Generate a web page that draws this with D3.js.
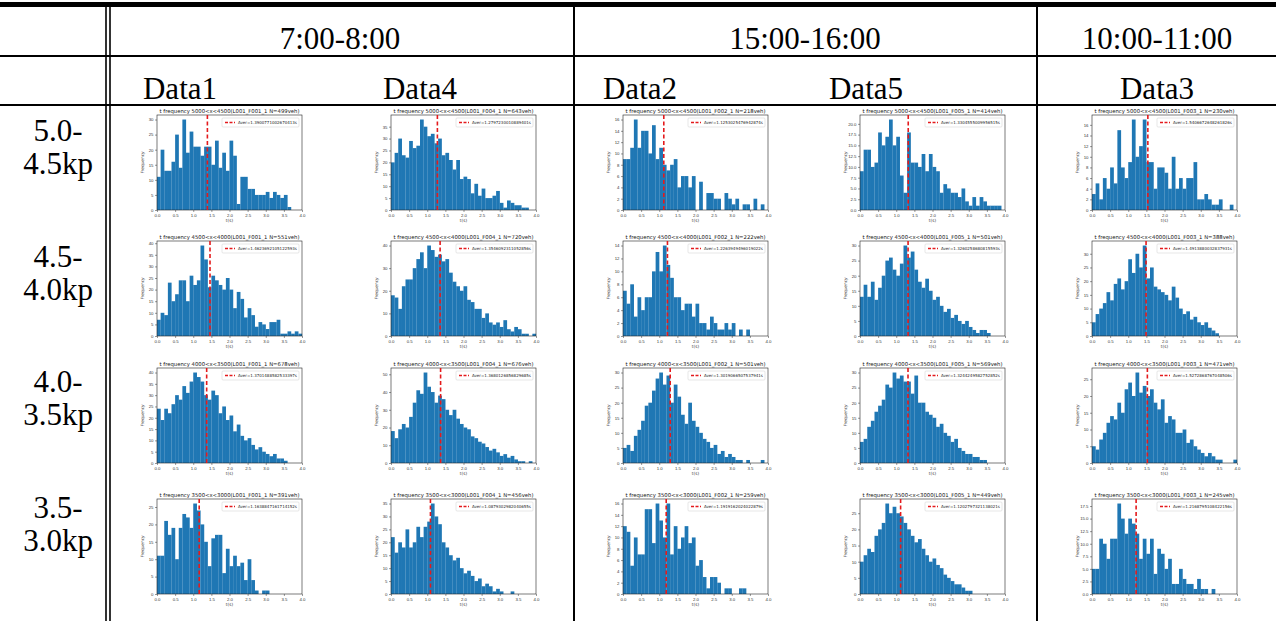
<!DOCTYPE html>
<html>
<head>
<meta charset="utf-8">
<script src="https://cdn.jsdelivr.net/npm/d3@7"></script>
<style>
  body { margin: 0; background: #fff; }
  .hdr { font-family: "Liberation Serif", "Times New Roman", serif; font-size: 31px; fill: #000; }
  .small { font-family: "DejaVu Sans", sans-serif; }
</style>
</head>
<body>
<div id="chart"></div>
<script>
const width = 1276, height = 621;

// table headings
const periods = ["7:00-8:00", "15:00-16:00", "10:00-11:00"];
const datasets = ["Data1", "Data4", "Data2", "Data5", "Data3"];
const fileIds = ["F001", "F004", "F002", "F005", "F003"];
const sectionTop = ["5.0-", "4.5-", "4.0-", "3.5-"];
const sectionBottom = ["4.5kp", "4.0kp", "3.5kp", "3.0kp"];
const ranges = ["5000<x<4500", "4500<x<4000", "4000<x<3500", "3500<x<3000"];

// vehicles per panel [row][col]
const vehN = [
  [499, 643, 218, 414, 230],
  [551, 720, 222, 501, 388],
  [678, 676, 501, 569, 471],
  [391, 456, 259, 449, 245]
];

// mean headway per panel (s)
const averages = [
  ["1.3900771002670413", "1.2797230010889401", "1.1253025476942874", "1.3304555009956515", "1.5406672648261826"],
  ["1.4623692105122593", "1.3546092311052856", "1.2263949496019022", "1.3260258680815593", "1.4913880032837931"],
  ["1.3701488582533397", "1.3680126856829685", "1.3019066507537941", "1.3244249582752852", "1.5272868767048506"],
  ["1.1638847161714152", "1.0879302982040655", "1.1919162024022879", "1.1202797321138021", "1.2168795108422156"]
];

// y tick step per panel
const yStep = [
  [5, 5, 2, 2.5, 2],
  [5, 10, 2, 5, 5],
  [5, 10, 5, 5, 5],
  [5, 5, 2, 5, 2.5]
];

// histogram counts, bins of 0.1 s starting at 0
const d1_5000 = [11,20,13,13,16,25,14,30,19,26,21,21,18,21,21,15,23,14,19,13,23,18,2,11,11,7,7,5,5,5,6,4,6,5,4,5,1];
const d4_5000 = [20,24,30,23,22,29,26,27,38,35,31,32,28,30,23,24,21,17,21,13,14,13,7,11,6,9,5,5,6,8,3,1,4,3,2,2,1,1];
const d2_5000 = [9,9,11,16,11,14,14,10,15,9,11,8,7,8,9,4,6,6,4,6,0,5,0,3,3,2,2,0,3,2,1,2,0,1,1,0,2,0,1];
const d5_5000 = [9,14,14,10,11,18,15,17,21,15,17,8,4,18,11,11,10,13,9,13,10,9,4,6,5,4,4,3,5,2,1,3,1,3,2,1,1,1,1];
const d3_5000 = [3,5,2,6,4,8,5,15,8,6,9,17,10,12,17,9,9,4,8,8,7,4,10,4,6,4,6,6,9,2,2,3,2,1,1,2,0,0,1];

const d1_4500 = [7,10,9,23,15,18,24,24,15,26,22,24,39,33,21,26,24,22,20,25,20,12,19,16,8,12,9,4,6,5,3,6,6,7,1,1,2,1,2,1];
const d4_4500 = [18,17,12,22,25,25,30,34,37,30,40,38,35,36,33,34,28,24,22,20,22,16,15,12,12,8,10,6,5,6,4,7,3,2,4,3,1,1,0,1];
const d2_4500 = [7,5,8,3,6,4,6,6,10,13,10,14,11,9,6,6,4,5,5,3,5,2,2,1,3,2,1,1,2,1,2,0,1,0,1];
const d5_4500 = [13,17,13,18,12,16,20,25,26,22,20,24,30,26,28,22,18,16,19,15,12,13,10,8,9,6,7,5,4,5,3,2,1,2,2,1];
const d3_4500 = [5,8,10,12,16,13,19,21,17,20,28,23,30,25,33,21,25,18,17,16,15,13,18,14,10,8,9,6,7,5,4,5,3,2,1];

const d1_4000 = [24,19,24,22,26,30,28,34,31,36,40,38,36,30,28,32,30,22,25,19,21,14,17,12,10,11,8,6,7,5,4,3,4,2,2,1];
const d4_4000 = [18,14,19,22,20,26,34,41,39,51,43,40,34,38,36,30,27,30,25,22,20,19,15,14,12,11,9,7,8,6,4,5,3,4,2,1,1,0,1];
const d2_4000 = [5,6,4,9,11,14,19,20,24,28,30,26,29,20,26,22,16,13,20,14,12,10,8,7,5,6,3,4,2,3,2,1,1,0,1,0,0,0,1];
const d5_4000 = [7,8,12,14,17,19,21,26,25,30,28,29,27,27,23,29,20,20,17,16,15,12,13,10,9,7,8,5,4,3,3,2,2,1,1];
const d3_4000 = [5,4,7,9,12,14,13,18,15,22,24,20,27,21,23,20,22,18,16,19,12,14,13,9,9,10,6,7,5,4,3,2,3,2,1,1,0,0,0,1];

const d1_3500 = [11,11,21,17,19,10,19,23,22,19,26,24,20,15,8,16,17,17,6,13,8,11,8,9,4,10,4,1,0,1,1];
const d4_3500 = [22,16,20,18,25,18,20,26,22,26,28,35,30,27,20,18,15,13,14,10,8,9,7,5,6,3,4,3,1,2,1,0,0,1];
const d2_3500 = [12,11,5,10,7,7,15,15,9,16,13,10,16,7,12,8,10,12,9,10,5,6,3,1,3,3,2,0,1,1,0,0,1,1];
const d5_3500 = [10,12,14,13,18,20,22,28,25,27,25,24,22,20,18,16,17,14,12,10,11,9,8,6,5,4,3,3,2,1,1];
const d3_3500 = [5,5,11,10,7,11,11,18,15,12,15,14,12,7,11,8,11,4,9,8,5,7,2,2,5,3,2,2,1,3,1,1,0,1];

const counts = [
  [d1_5000, d4_5000, d2_5000, d5_5000, d3_5000],
  [d1_4500, d4_4500, d2_4500, d5_4500, d3_4500],
  [d1_4000, d4_4000, d2_4000, d5_4000, d3_4000],
  [d1_3500, d4_3500, d2_3500, d5_3500, d3_3500]
];

const svg = d3.select("#chart")
  .append("svg")
  .attr("width", width)
  .attr("height", height);

// ---- table frame ----
const lines = svg.append("g").attr("stroke", "#000");
lines.append("line").attr("x1", 0).attr("x2", width).attr("y1", 4.5).attr("y2", 4.5).attr("stroke-width", 5);
lines.append("line").attr("x1", 0).attr("x2", width).attr("y1", 56).attr("y2", 56).attr("stroke-width", 2);
lines.append("line").attr("x1", 0).attr("x2", width).attr("y1", 105).attr("y2", 105).attr("stroke-width", 2);
[106, 110].forEach(x => lines.append("line").attr("x1", x).attr("x2", x).attr("y1", 7).attr("y2", height).attr("stroke-width", 1.6));
[574, 1037].forEach(x => lines.append("line").attr("x1", x).attr("x2", x).attr("y1", 7).attr("y2", height).attr("stroke-width", 2));

// ---- header text ----
const periodX = [340, 805, 1157];
svg.selectAll(".period").data(periods).join("text")
  .attr("class", "hdr period")
  .attr("x", (d, i) => periodX[i]).attr("y", 49)
  .attr("text-anchor", "middle")
  .text(d => d);

const dataX = [180, 420, 640, 866, 1157];
svg.selectAll(".dset").data(datasets).join("text")
  .attr("class", "hdr dset")
  .attr("x", (d, i) => dataX[i]).attr("y", 99)
  .attr("text-anchor", "middle")
  .text(d => d);

const colX = [157, 391, 623, 860, 1092];
const rowY = [115, 241, 368, 499];
const pw = 145, ph = 95;

sectionTop.forEach((s, r) => {
  const t = svg.append("text").attr("class", "hdr").attr("text-anchor", "middle");
  t.append("tspan").attr("x", 58).attr("y", 141 + r * 125.5).text(s);
  t.append("tspan").attr("x", 58).attr("y", 174 + r * 125.5).text(sectionBottom[r]);
});

// ---- small histograms ----
const x = d3.scaleLinear().domain([0, 4]).range([0, pw]);
const bw = x(0.1) - x(0);

counts.forEach((row, r) => {
  row.forEach((vals, c) => {
    const g = svg.append("g")
      .attr("class", "small")
      .attr("transform", `translate(${colX[c]},${rowY[r]})`);

    const ymax = d3.max(vals) * 1.05;
    const y = d3.scaleLinear().domain([0, ymax]).range([ph, 0]);
    const step = yStep[r][c];

    g.selectAll("rect.bar").data(vals).join("rect")
      .attr("class", "bar")
      .attr("x", (d, i) => x(i * 0.1))
      .attr("width", bw + 0.1)
      .attr("y", d => y(d))
      .attr("height", d => ph - y(d))
      .attr("fill", "#1f77b4");

    const ax = g.append("g")
      .attr("transform", `translate(0,${ph})`)
      .call(d3.axisBottom(x).tickValues(d3.range(0, 4.01, 0.5)).tickFormat(d3.format(".1f")).tickSize(2).tickPadding(1.5));
    const ay = g.append("g")
      .call(d3.axisLeft(y)
        .tickValues(d3.range(0, ymax, step))
        .tickFormat(step % 1 ? d3.format(".1f") : d3.format("d"))
        .tickSize(2).tickPadding(1.5));
    [ax, ay].forEach(a => {
      a.select(".domain").remove();
      a.selectAll("line").attr("stroke", "#333").attr("stroke-width", 0.5);
      a.selectAll("text").attr("font-size", 4.3).attr("fill", "#333");
    });

    g.append("rect")
      .attr("width", pw).attr("height", ph)
      .attr("fill", "none").attr("stroke", "#222").attr("stroke-width", 0.6);

    // mean line
    const m = +averages[r][c];
    g.append("line")
      .attr("x1", x(m)).attr("x2", x(m))
      .attr("y1", 0).attr("y2", ph)
      .attr("stroke", "#e41a1c").attr("stroke-width", 1.6)
      .attr("stroke-dasharray", "4,2.5");

    // legend
    const lg = g.append("g").attr("transform", `translate(${pw - 80},3)`);
    lg.append("rect").attr("width", 77).attr("height", 9)
      .attr("fill", "#fff").attr("fill-opacity", 0.85)
      .attr("stroke", "#ccc").attr("stroke-width", 0.5).attr("rx", 1);
    lg.append("line").attr("x1", 3).attr("x2", 13).attr("y1", 4.5).attr("y2", 4.5)
      .attr("stroke", "#e41a1c").attr("stroke-width", 1.3).attr("stroke-dasharray", "3,1.5");
    lg.append("text").attr("x", 16).attr("y", 6)
      .attr("font-size", 4).attr("fill", "#222")
      .text(`Aver=${averages[r][c]}s`);

    g.append("text")
      .attr("x", pw / 2).attr("y", -2.5)
      .attr("text-anchor", "middle")
      .attr("font-size", 5.3).attr("fill", "#111")
      .text(`t frequency ${ranges[r]}(L001_${fileIds[c]}_1 N=${vehN[r][c]}veh)`);

    g.append("text")
      .attr("transform", `translate(-13,${ph / 2}) rotate(-90)`)
      .attr("text-anchor", "middle")
      .attr("font-size", 4.3).attr("fill", "#333")
      .text("Frequency");

    g.append("text")
      .attr("x", pw / 2).attr("y", ph + 12)
      .attr("text-anchor", "middle")
      .attr("font-size", 4.3).attr("fill", "#333")
      .text("t(s)");
  });
});
</script>
</body>
</html>
